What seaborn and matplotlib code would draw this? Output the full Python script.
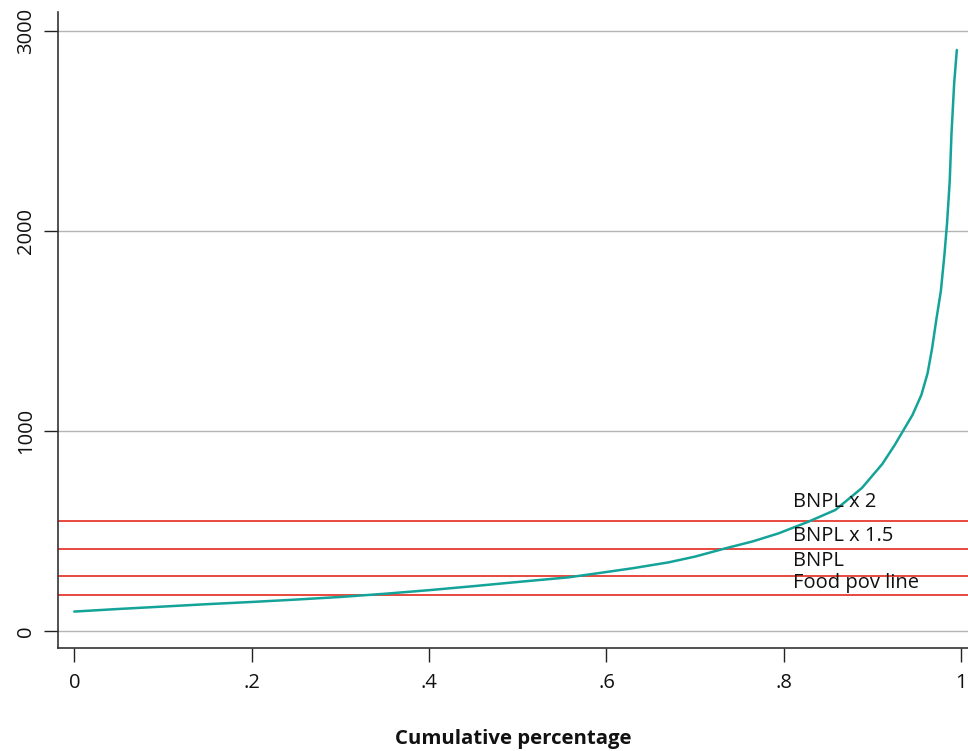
import matplotlib
matplotlib.use("Agg")
import matplotlib.pyplot as plt
import seaborn as sns
import pandas as pd

# cumulative share of population (sorted) and per-capita consumption
cum_pct = [0.0, 0.05, 0.10, 0.15, 0.20, 0.25, 0.30, 0.35, 0.40, 0.45,
           0.50, 0.557, 0.594, 0.63, 0.67, 0.70, 0.734, 0.765, 0.794,
           0.828, 0.858, 0.888, 0.911, 0.925, 0.935, 0.945, 0.955,
           0.962, 0.967, 0.972, 0.977, 0.981, 0.984, 0.987, 0.989,
           0.992, 0.995]
consumption = [97, 110, 122, 134, 145, 157, 170, 186, 204, 224,
               245, 268, 291, 314, 343, 372, 413, 448, 488,
               547, 605, 715, 835, 930, 1005, 1080, 1180,
               1288, 1410, 1560, 1700, 1880, 2040, 2250, 2488,
               2738, 2905]

line_names = ["Food pov line", "BNPL", "BNPL x 1.5", "BNPL x 2"]
line_values = [180, 274, 411, 548]

x_ticks = [0, 0.2, 0.4, 0.6, 0.8, 1.0]
x_ticklabels = ["0", ".2", ".4", ".6", ".8", "1"]
y_ticks = [0, 1000, 2000, 3000]

sns.set_theme(style="white")
plt.rcParams["font.family"] = ["Open Sans", "DejaVu Sans"]

fig = plt.figure(figsize=(9.68, 7.51), dpi=100)
ax = fig.add_axes([0.0599, 0.1372, 0.9401, 0.8468])

df = pd.DataFrame({"cum_pct": cum_pct, "consumption": consumption})

# grid lines at the y ticks
for yv in y_ticks:
    ax.axhline(yv, color="#b4b4b4", lw=1.0, zorder=0)

# poverty lines
for val in line_values:
    ax.axhline(val, color="#e8473e", lw=1.4, zorder=1)

sns.lineplot(data=df, x="cum_pct", y="consumption", ax=ax,
             color="#14a398", lw=1.8, zorder=3)

label_offsets = [60, 76, 64, 95]
for name, val, off in zip(line_names, line_values, label_offsets):
    ax.text(0.81, val + off, name, fontsize=14.5, va="center", ha="left",
            color="#111111", zorder=4)

ax.set_xlim(-0.0184, 1.0076)
ax.set_ylim(-85, 3095)
ax.set_xticks(x_ticks)
ax.set_xticklabels(x_ticklabels)
ax.set_yticks(y_ticks)
ax.set_yticklabels([str(v) for v in y_ticks], rotation=90, va="center")

ax.tick_params(axis="both", direction="out", length=10, width=1.0,
               color="#222222", labelsize=14.5, labelcolor="#111111", pad=8,
               bottom=True, left=True)
ax.tick_params(axis="y", pad=6)

ax.set_xlabel("Cumulative percentage", fontsize=14.7, fontweight="bold",
              labelpad=26, color="#111111")
ax.set_ylabel("")

sns.despine(ax=ax, top=True, right=True)
for side in ["left", "bottom"]:
    ax.spines[side].set_color("#333333")
    ax.spines[side].set_linewidth(1.2)

fig.savefig("out.png", dpi=100, facecolor="white")
